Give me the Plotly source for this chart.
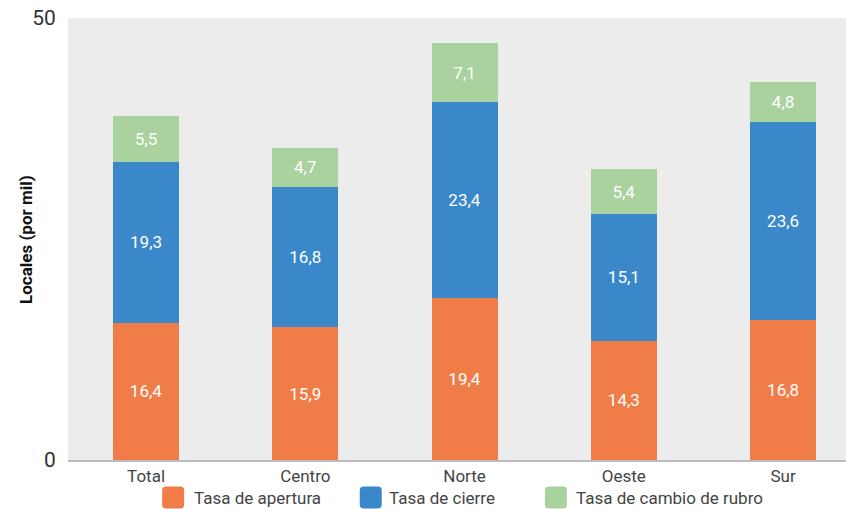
import plotly.graph_objects as go

categories = ["Total", "Centro", "Norte", "Oeste", "Sur"]
apertura = [16.4, 15.9, 19.4, 14.3, 16.8]
cierre = [19.3, 16.8, 23.4, 15.1, 23.6]
cambio = [5.5, 4.7, 7.1, 5.4, 4.8]
series_names = ["Tasa de apertura", "Tasa de cierre", "Tasa de cambio de rubro"]
colors = ["#F07D48", "#3A88CA", "#A9D29F"]
y_max = 52.9
tick_vals = [0, y_max]
tick_text = ["0", "50"]

FONT = "Roboto"
fig = go.Figure()
for name, vals, col in zip(series_names, [apertura, cierre, cambio], colors):
    fig.add_trace(go.Bar(
        x=categories, y=vals, name=name, marker=dict(color=col, line=dict(width=0)),
        texttemplate="%{y:.1f}", textposition="inside", insidetextanchor="middle",
        textangle=0, textfont=dict(color="white", size=17, family=FONT),
        showlegend=False, hoverinfo="skip",
    ))

fig.update_layout(
    width=846, height=509,
    barmode="stack", bargap=0.586,
    separators=",.",
    paper_bgcolor="white", plot_bgcolor="#ECECEC",
    margin=dict(l=68, r=0, t=18, b=49),
    font=dict(family=FONT, color="#444"),
)
fig.update_xaxes(range=[-0.49, 4.395], showgrid=False, showline=True, linecolor="#BBBBBB", linewidth=2,
                 tickfont=dict(size=17, color="#444", family=FONT), ticks="", fixedrange=True)
fig.update_yaxes(range=[0, y_max], tickvals=tick_vals, ticktext=tick_text, showgrid=False,
                 zeroline=False, ticks="outside", ticklen=7, tickcolor="rgba(0,0,0,0)",
                 tickfont=dict(size=21, color="#333", family=FONT))

fig.add_annotation(x=-0.054, y=0.5, xref="paper", yref="paper", text="<b>Locales (por mil)</b>",
                   textangle=-90, showarrow=False, xanchor="center", yanchor="middle",
                   font=dict(size=17, color="#111", family=FONT))

# custom legend
legend_items = [(0.121, 0.159), (0.375, 0.410), (0.613, 0.650)]
ly = -0.085
h = 22 / 442
for (mx, tx), name, col in zip(legend_items, series_names, colors):
    x0, x1 = mx, mx + 22 / 778
    y0, y1 = ly - h / 2, ly + h / 2
    r = 4 / 778
    rv = 4 / 442
    path = (f"M {x0+r},{y0} L {x1-r},{y0} Q {x1},{y0} {x1},{y0+rv} L {x1},{y1-rv} Q {x1},{y1} {x1-r},{y1} "
            f"L {x0+r},{y1} Q {x0},{y1} {x0},{y1-rv} L {x0},{y0+rv} Q {x0},{y0} {x0+r},{y0} Z")
    fig.add_shape(type="path", path=path, xref="paper", yref="paper", fillcolor=col, line=dict(width=0))
    fig.add_annotation(x=tx, y=ly, xref="paper", yref="paper", text=name, showarrow=False,
                       xanchor="left", yanchor="middle", font=dict(size=17, color="#444", family=FONT))

fig.write_html("out.html", config={"displayModeBar": False},
               post_script="document.body.style.margin='0';document.body.style.overflow='hidden';")
